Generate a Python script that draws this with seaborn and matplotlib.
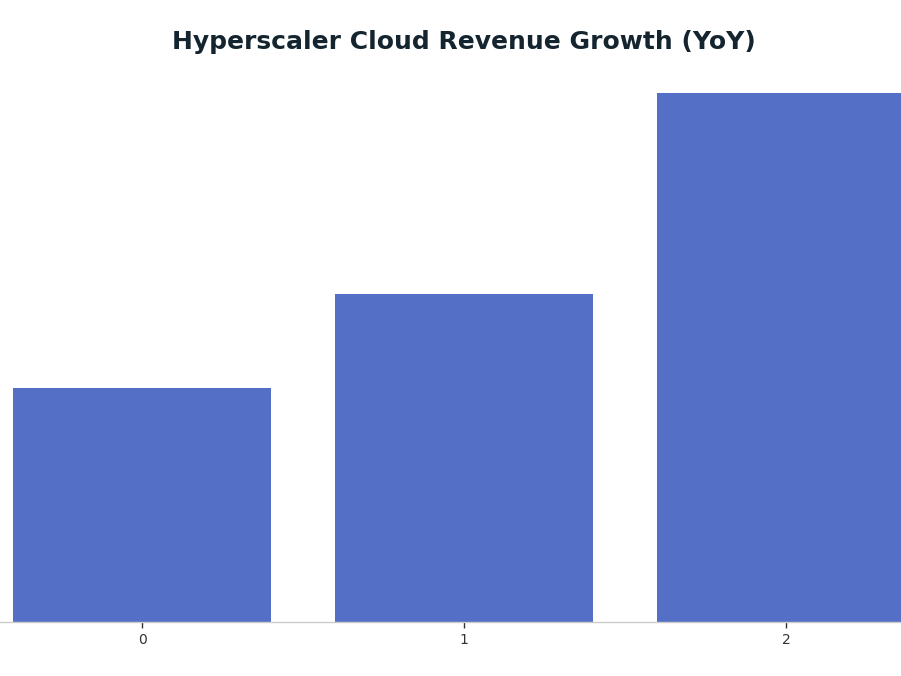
import matplotlib
matplotlib.use("Agg")
import matplotlib.pyplot as plt
import seaborn as sns
import pandas as pd

# Bar values (YoY growth)
categories = ["0", "1", "2"]
growth = [17.7, 24.8, 40.0]

df = pd.DataFrame({"cat": categories, "growth": growth})

sns.set_theme(style="white")
plt.rcParams["font.family"] = ["DejaVu Sans"]

fig = plt.figure(figsize=(9.01, 6.76), dpi=100)
ax = fig.add_axes([0, 54 / 676, 1, 529 / 676])

sns.barplot(data=df, x="cat", y="growth", color="#5470c6", saturation=1,
            width=0.8, linewidth=0, ax=ax)

ax.set_xlim(-0.441, 2.357)
ax.set_ylim(0, max(growth))
ax.set_xlabel("")
ax.set_ylabel("")
ax.set_yticks([])
for side in ["top", "right", "left"]:
    ax.spines[side].set_visible(False)
ax.spines["bottom"].set_color("#cccccc")
ax.spines["bottom"].set_linewidth(1)
ax.tick_params(axis="x", length=4, width=1, color="#333333",
               labelsize=10, labelcolor="#333333", pad=4, bottom=True)

fig.text(0.515, 1 - 41.5 / 676, "Hyperscaler Cloud Revenue Growth (YoY)",
         ha="center", va="center", fontsize=18, fontweight="bold",
         color="#14252f")

fig.savefig("out.png", dpi=100)
